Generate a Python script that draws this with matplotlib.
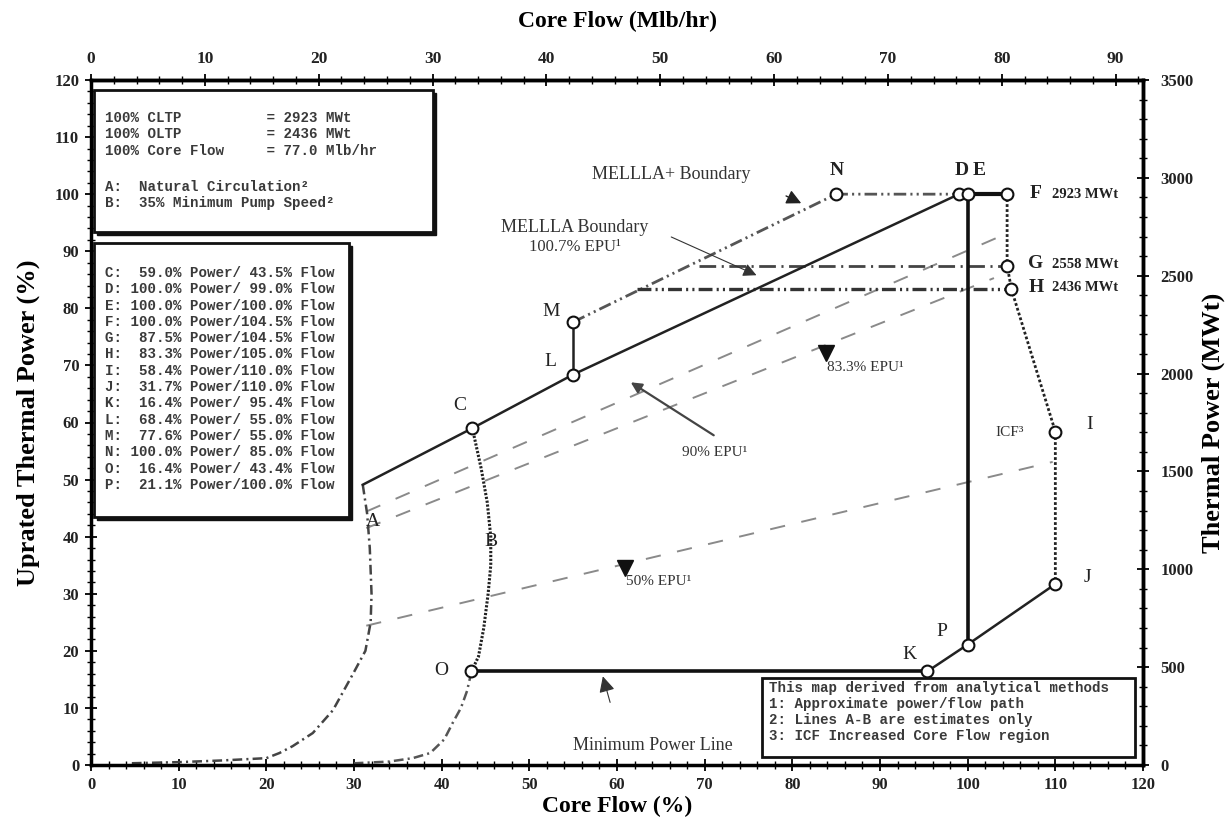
import matplotlib
matplotlib.use('Agg')
import matplotlib.pyplot as plt
import numpy as np
from matplotlib.patches import Rectangle

plt.rcParams['lines.scale_dashes'] = False
plt.rcParams['font.family'] = ['Liberation Serif', 'DejaVu Serif']
MONO = ['Liberation Mono', 'DejaVu Sans Mono']

# ---------------- data ----------------
point_names = ['C', 'D', 'E', 'F', 'G', 'H', 'I', 'J', 'K', 'L', 'M', 'N', 'O', 'P']
point_power = [59.0, 100.0, 100.0, 100.0, 87.5, 83.3, 58.4, 31.7, 16.4, 68.4, 77.6, 100.0, 16.4, 21.1]
point_flow = [43.5, 99.0, 100.0, 104.5, 104.5, 105.0, 110.0, 110.0, 95.4, 55.0, 55.0, 85.0, 43.4, 100.0]

# start of the upper (rod line) boundary at natural circulation
boundary_start_flow = 31.0
boundary_start_power = 49.1

# curve A: natural circulation (estimated)
curveA_flow = [31.0, 31.5, 31.8, 32.0, 31.9, 31.3, 29.9, 27.6, 25.3, 23.0, 21.5, 20.0, 15.0, 10.0, 4.4]
curveA_power = [49.1, 44.0, 38.0, 30.0, 25.0, 20.0, 16.0, 9.6, 5.6, 3.3, 2.1, 1.2, 0.8, 0.5, 0.3]

# curve B: 35% minimum pump speed (C -> O)
curveB_flow = [43.5, 44.5, 45.2, 45.6, 45.6, 45.3, 44.8, 44.2, 43.4]
curveB_power = [59.0, 52.0, 46.0, 40.0, 35.0, 30.0, 24.0, 19.0, 16.4]

# curve B continued below O
curveB_low_flow = [43.4, 42.9, 42.2, 41.3, 40.3, 38.7, 36.7, 34.0, 30.0]
curveB_low_power = [16.4, 13.0, 10.0, 7.5, 4.5, 2.1, 1.2, 0.6, 0.3]

# EPU rod lines (dashed)
epu_upper_flow = [31.4, 104.3]
epu_upper_power = [44.4, 93.0]
epu_mid_flow = [31.4, 103.0]
epu_mid_power = [41.5, 85.3]
epu50_flow = [31.4, 109.7]
epu50_power = [24.4, 53.1]

# MELLLA boundary (G level) and H line start flows
mellla_start_flow = 69.4
h_line_start_flow = 62.3

# right axis labels
mwt_labels = ['2923 MWt', '2558 MWt', '2436 MWt']
mwt_label_power = [100.0, 87.6, 83.6]

box1_lines = ['100% CLTP          = 2923 MWt',
              '100% OLTP          = 2436 MWt',
              '100% Core Flow     = 77.0 Mlb/hr',
              '',
              'A:  Natural Circulation\u00b2',
              'B:  35% Minimum Pump Speed\u00b2']
box2_lines = ['C:  59.0% Power/ 43.5% Flow',
              'D: 100.0% Power/ 99.0% Flow',
              'E: 100.0% Power/100.0% Flow',
              'F: 100.0% Power/104.5% Flow',
              'G:  87.5% Power/104.5% Flow',
              'H:  83.3% Power/105.0% Flow',
              'I:  58.4% Power/110.0% Flow',
              'J:  31.7% Power/110.0% Flow',
              'K:  16.4% Power/ 95.4% Flow',
              'L:  68.4% Power/ 55.0% Flow',
              'M:  77.6% Power/ 55.0% Flow',
              'N: 100.0% Power/ 85.0% Flow',
              'O:  16.4% Power/ 43.4% Flow',
              'P:  21.1% Power/100.0% Flow']
box3_lines = ['This map derived from analytical methods',
              '1: Approximate power/flow path',
              '2: Lines A-B are estimates only',
              '3: ICF Increased Core Flow region']

P = {n: (f, p) for n, f, p in zip(point_names, point_flow, point_power)}

# ---------------- figure ----------------
W, H = 1228, 826
fig = plt.figure(figsize=(W / 100, H / 100), dpi=100)
ax = fig.add_axes([91 / W, 1 - 765 / H, (1143 - 91) / W, (765 - 80) / H])
ax.set_xlim(0, 120)
ax.set_ylim(0, 120)

for s in ax.spines.values():
    s.set_linewidth(2.5)

ax.set_xticks(np.arange(0, 121, 10))
ax.set_xticks(np.arange(0, 121, 2), minor=True)
ax.set_yticks(np.arange(0, 121, 10))
ax.set_yticks(np.arange(0, 121, 2), minor=True)
ax.tick_params(which='major', direction='inout', length=9, width=1.3, labelsize=12, pad=4)
ax.tick_params(which='minor', direction='inout', length=6, width=1.0)

secx = ax.secondary_xaxis('top', functions=(lambda x: x * 0.77, lambda m: m / 0.77))
secx.set_xticks(np.arange(0, 91, 10))
secx.set_xticks(np.arange(0, 93, 2), minor=True)
secx.tick_params(which='major', direction='inout', length=9, width=1.3, labelsize=12.5, pad=5)
secx.tick_params(which='minor', direction='inout', length=6, width=1.0)
secx.spines['top'].set_linewidth(2.5)

secy = ax.secondary_yaxis('right', functions=(lambda y: y * 3500 / 120, lambda p: p * 120 / 3500))
secy.set_yticks(np.arange(0, 3501, 500))
secy.set_yticks(np.arange(0, 3501, 100), minor=True)
secy.tick_params(which='major', direction='inout', length=9, width=1.3, labelsize=12, pad=8)
secy.tick_params(which='minor', direction='inout', length=6, width=1.0)
secy.spines['right'].set_linewidth(2.5)

for a in (ax.xaxis, ax.yaxis, secx.xaxis, secy.yaxis):
    for t in a.get_ticklabels():
        t.set_fontweight('bold')
        t.set_color('#222222')

ax.set_xlabel('Core Flow (%)', fontsize=17, fontweight='bold', labelpad=2)
ax.set_ylabel('Uprated Thermal Power (%)', fontsize=19, fontweight='bold', labelpad=10)
secx.set_xlabel('Core Flow (Mlb/hr)', fontsize=17, fontweight='bold', labelpad=17)
secy.set_ylabel('Thermal Power (MWt)', fontsize=19, fontweight='bold', labelpad=6)

# ---------------- lines ----------------
dash = (0, (11, 12))
for fx, py in [(epu_upper_flow, epu_upper_power), (epu_mid_flow, epu_mid_power), (epu50_flow, epu50_power)]:
    ax.plot(fx, py, color='#8a8a8a', lw=1.4, linestyle=dash, zorder=2)

ax.plot([boundary_start_flow, P['C'][0], P['L'][0], P['D'][0]],
        [boundary_start_power, P['C'][1], P['L'][1], P['D'][1]], color='#222222', lw=1.8, zorder=3)
ax.plot([P['L'][0], P['M'][0]], [P['L'][1], P['M'][1]], color='#222222', lw=1.8, zorder=3)
ax.plot([P['D'][0], P['F'][0]], [P['D'][1], P['F'][1]], color='#111111', lw=3.0, zorder=3)
ax.plot([P['E'][0], P['P'][0]], [P['E'][1], P['P'][1]], color='#111111', lw=2.6, zorder=3)
ax.plot([P['O'][0], P['K'][0]], [P['O'][1], P['K'][1]], color='#111111', lw=2.6, zorder=3)
ax.plot([P['K'][0], P['P'][0], P['J'][0]], [P['K'][1], P['P'][1], P['J'][1]], color='#222222', lw=1.8, zorder=3)
ax.plot([P[n][0] for n in 'FGHIJ'], [P[n][1] for n in 'FGHIJ'], color='#222222', lw=2.0,
        linestyle=(0, (2, 1.6)), zorder=3)

ax.plot([P['M'][0], P['N'][0], P['D'][0]], [P['M'][1], P['N'][1], P['D'][1]], color='#555555', lw=2.0,
        linestyle=(0, (9, 3, 1.5, 3, 1.5, 3)), zorder=2)
ax.plot([mellla_start_flow, P['G'][0]], [P['G'][1], P['G'][1]], color='#444444', lw=2.0,
        linestyle=(0, (12, 4, 1.5, 4)), zorder=2)
ax.plot([h_line_start_flow, P['H'][0]], [P['H'][1], P['H'][1]], color='#333333', lw=2.4,
        linestyle=(0, (10, 3, 1.5, 3, 1.5, 3)), zorder=2)

ax.plot(curveA_flow, curveA_power, color='#444444', lw=1.8, linestyle=(0, (7, 3, 1.5, 3)), zorder=2)
ax.plot(curveB_flow, curveB_power, color='#222222', lw=2.2, linestyle=(0, (1.6, 1.2)), zorder=2)
ax.plot(curveB_low_flow, curveB_low_power, color='#555555', lw=1.8, linestyle=(0, (7, 3, 1.5, 3)), zorder=2)

ax.plot(point_flow, point_power, 'o', mfc='white', mec='#111111', ms=8.5, mew=1.5, zorder=5, clip_on=False)

# ---------------- point labels ----------------
lab = dict(fontsize=14, ha='center', va='center', color='#222222')
label_pos = {'N': (85.1, 104.1), 'D': (99.3, 104.1), 'E': (101.3, 104.1), 'F': (107.8, 100.2),
             'G': (107.8, 87.8), 'H': (107.8, 83.7), 'I': (113.9, 59.6), 'J': (113.7, 32.9),
             'P': (97.1, 23.3), 'K': (93.4, 19.3), 'O': (39.9, 16.6), 'C': (42.1, 62.9),
             'L': (52.4, 70.6), 'M': (52.5, 79.5)}
for n, (x, y) in label_pos.items():
    w = 'bold' if n in 'NDEFGH' else 'normal'
    ax.text(x, y, n, fontweight=w, **lab)
ax.text(32.2, 42.6, 'A', **lab)
ax.text(45.6, 39.1, 'B', **lab)
for t, y in zip(mwt_labels, mwt_label_power):
    ax.text(113.4, y, t, fontsize=10.5, fontweight='bold', ha='center', va='center', color='#222222')

ax.text(104.8, 58.2, 'ICF\u00b3', fontsize=11, ha='center', va='center', color='#333333')
ax.text(88.3, 69.6, '83.3% EPU\u00b9', fontsize=11, ha='center', va='center', color='#333333')
ax.text(71.1, 54.8, '90% EPU\u00b9', fontsize=11, ha='center', va='center', color='#333333')
ax.text(64.7, 32.1, '50% EPU\u00b9', fontsize=11, ha='center', va='center', color='#333333')
ax.text(64.1, 3.5, 'Minimum Power Line', fontsize=13, ha='center', va='center', color='#333333')
ax.text(66.2, 103.5, 'MELLLA+ Boundary', fontsize=13, ha='center', va='center', color='#333333')
ax.text(55.2, 94.1, 'MELLLA Boundary', fontsize=13, ha='center', va='center', color='#333333')
ax.text(55.2, 90.7, '100.7% EPU\u00b9', fontsize=12, ha='center', va='center', color='#333333')

# arrows / pointers
ax.annotate('', xy=(81.3, 98.2), xytext=(79.0, 99.9),
            arrowprops=dict(arrowstyle='-|>', color='#222222', lw=1.0, mutation_scale=22))
ax.annotate('', xy=(76.2, 85.6), xytext=(65.9, 92.7),
            arrowprops=dict(arrowstyle='-|>', color='#333333', lw=0.8, mutation_scale=20))
ax.annotate('', xy=(61.3, 67.3), xytext=(71.3, 57.5),
            arrowprops=dict(arrowstyle='-|>', color='#444444', lw=1.6, mutation_scale=16))
ax.annotate('', xy=(58.3, 16.0), xytext=(59.3, 10.5),
            arrowprops=dict(arrowstyle='-|>', color='#333333', lw=0.8, mutation_scale=24))
ax.plot([60.9], [34.5], 'v', color='#111111', ms=11, zorder=4)
ax.plot([83.8], [72.2], 'v', color='#111111', ms=11, zorder=4)

# ---------------- text boxes ----------------
px_x = 120 / (1143 - 91)
px_y = 120 / (765 - 80)


def box(x0, y0, x1, y1, shadow=True, lw=2.0):
    if shadow:
        ax.add_patch(Rectangle((x0 + 3 * px_x, y0 - 3 * px_y), x1 - x0, y1 - y0, facecolor='#111111',
                               edgecolor='#111111', lw=1, zorder=6, clip_on=False))
    ax.add_patch(Rectangle((x0, y0), x1 - x0, y1 - y0, facecolor='white', edgecolor='#111111',
                           lw=lw, zorder=7, clip_on=False))


box(0.3, 93.3, 39.0, 118.2)
box(0.3, 43.5, 29.4, 91.4)
box(76.5, 1.4, 119.1, 15.3, shadow=False, lw=2.0)

mono = dict(family=MONO, fontsize=10.2, fontweight='bold', color='#3a3a3a', ha='left', va='center', zorder=8)
y_b1 = [113.3, 110.5, 107.6, 104.4, 101.2, 98.4]
for t, y in zip(box1_lines, y_b1):
    if t:
        ax.text(1.6, y, t, **mono)
for i, t in enumerate(box2_lines):
    ax.text(1.6, 86.2 - i * 16.3 * px_y, t, **mono)
for i, t in enumerate(box3_lines):
    ax.text(77.3, 13.5 - i * 16.0 * px_y, t, **mono)

fig.savefig('out.png', dpi=100)
